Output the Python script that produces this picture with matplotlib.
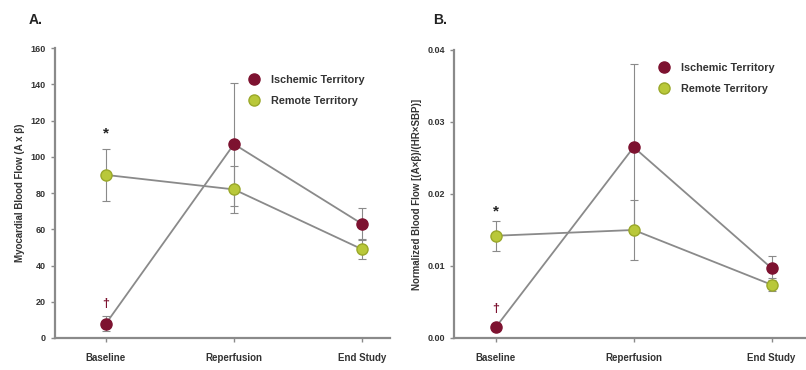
import numpy as np
import matplotlib.pyplot as plt

categories = ['Baseline', 'Reperfusion', 'End Study']

# Panel A: myocardial blood flow
mbf_ischemic = [8, 107, 63]
mbf_ischemic_err = [4, 34, 9]
mbf_remote = [90, 82, 49]
mbf_remote_err = [14.5, 13, 5.5]

# Panel B: normalized blood flow
nbf_ischemic = [0.0015, 0.0265, 0.0097]
nbf_ischemic_err = [0.0005, 0.0115, 0.0017]
nbf_remote = [0.0142, 0.0150, 0.0074]
nbf_remote_err = [0.0021, 0.0042, 0.0009]

ISCH = '#7d1230'
REM = '#b9c83a'
GRAY = '#8a8a8a'
TXT = '#333333'

plt.rcParams['font.family'] = ['Liberation Sans', 'DejaVu Sans']

fig = plt.figure(figsize=(8.06, 3.70), dpi=100)
axA = fig.add_axes([0.068, 0.0865, 0.416, 0.7835])
axB = fig.add_axes([0.563, 0.0865, 0.437, 0.7785])

x = np.arange(len(categories))


def draw(ax, isch, isch_err, rem, rem_err):
    ax.errorbar(x, rem, yerr=rem_err, color=GRAY, lw=1.0, elinewidth=0.8,
                capsize=3, capthick=0.8, zorder=2, fmt='none')
    ax.errorbar(x, isch, yerr=isch_err, color=GRAY, lw=1.0, elinewidth=0.8,
                capsize=3, capthick=0.8, zorder=2, fmt='none')
    ax.plot(x, isch, color=GRAY, lw=1.3, zorder=3)
    ax.plot(x, rem, color=GRAY, lw=1.3, zorder=3)
    ax.plot(x, isch, 'o', color=ISCH, ms=8, mec=ISCH, zorder=4, label='Ischemic Territory')
    ax.plot(x, rem, 'o', color=REM, ms=8, mec='#9aa82a', zorder=4, label='Remote Territory')
    ax.set_xticks(x)
    ax.set_xticklabels(categories, fontsize=7, fontweight='bold', color=TXT)
    for s in ['top', 'right']:
        ax.spines[s].set_visible(False)
    for s in ['left', 'bottom']:
        ax.spines[s].set_color('#8a8a8a')
        ax.spines[s].set_linewidth(1.6)
    ax.tick_params(axis='both', colors='#8a8a8a', length=3, width=1)
    ax.tick_params(axis='y', labelsize=6.5, labelcolor=TXT)
    ax.tick_params(axis='x', labelcolor=TXT, pad=8)
    ax.patch.set_visible(False)


draw(axA, mbf_ischemic, mbf_ischemic_err, mbf_remote, mbf_remote_err)
axA.set_xlim(-0.4, 2.22)
axA.set_ylim(0, 160)
axA.set_yticks(range(0, 161, 20))
for lab in axA.get_yticklabels():
    lab.set_fontweight('bold')
axA.set_ylabel('Myocardial Blood Flow (A x \u03b2)', fontsize=7, fontweight='bold', color=TXT)
axA.text(0, 113, '*', ha='center', va='center', fontsize=11, fontweight='bold', color='#222222')
axA.text(0, 19, '\u2020', ha='center', va='center', fontsize=9, fontweight='bold', color=ISCH)
axA.legend(loc='upper left', bbox_to_anchor=(0.548, 0.942), frameon=False,
           prop={'weight': 'bold', 'size': 7.8}, handletextpad=1.1, labelspacing=1.05,
           handlelength=1.0, labelcolor=TXT)
fig.text(0.035, 0.935, 'A.', fontsize=10, fontweight='bold', color='#222222')

draw(axB, nbf_ischemic, nbf_ischemic_err, nbf_remote, nbf_remote_err)
axB.set_xlim(-0.305, 2.25)
axB.set_ylim(0, 0.04)
axB.set_yticks([0.0, 0.01, 0.02, 0.03, 0.04])
axB.set_yticklabels(['0.00', '0.01', '0.02', '0.03', '0.04'])
for lab in axB.get_yticklabels():
    lab.set_fontweight('bold')
axB.set_ylabel('Normalized Blood Flow [(A\u00d7\u03b2)/(HR\u00d7SBP)]', fontsize=7,
               fontweight='bold', color=TXT)
axB.text(0, 0.0176, '*', ha='center', va='center', fontsize=11, fontweight='bold', color='#222222')
axB.text(0, 0.0040, '\u2020', ha='center', va='center', fontsize=9, fontweight='bold', color=ISCH)
axB.legend(loc='upper left', bbox_to_anchor=(0.553, 0.99), frameon=False,
           prop={'weight': 'bold', 'size': 7.8}, handletextpad=1.1, labelspacing=1.05,
           handlelength=1.0, labelcolor=TXT)
fig.text(0.537, 0.935, 'B.', fontsize=10, fontweight='bold', color='#222222')

fig.savefig('out.png', dpi=100)
